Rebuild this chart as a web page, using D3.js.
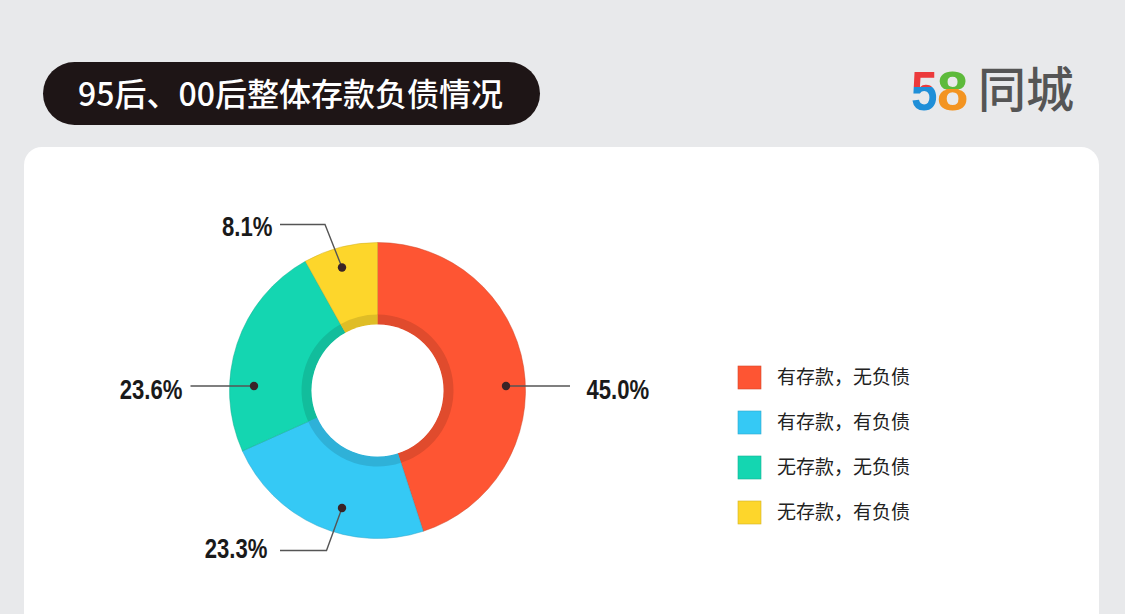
<!DOCTYPE html>
<html><head><meta charset="utf-8">
<script src="https://cdn.jsdelivr.net/npm/d3@7"></script>
<style>
html,body{margin:0;padding:0;background:#e8e9eb;}
svg{display:block;}
</style></head>
<body>
<svg id="chart" width="1125" height="614"></svg>
<script>
// ---- data ----
const categories = ["有存款，无负债", "有存款，有负债", "无存款，无负债", "无存款，有负债"];
const values = [45.0, 23.3, 23.6, 8.1];
const valueLabels = ["45.0%", "23.3%", "23.6%", "8.1%"];
const colors = ["#fe5533", "#35c9f5", "#14d6b1", "#fdd62b"];
const title = "95后、00后整体存款负债情况";

const svg = d3.select("#chart");
const W = 1125, H = 614;

// background + card
svg.append("rect").attr("width", W).attr("height", H).attr("fill", "#e8e9eb");
svg.append("rect").attr("x", 24).attr("y", 147).attr("width", 1075).attr("height", 520)
  .attr("rx", 18).attr("fill", "#ffffff");

// title pill
svg.append("rect").attr("x", 43).attr("y", 62).attr("width", 497).attr("height", 63)
  .attr("rx", 31.5).attr("fill", "#1e1516");
svg.append("text").attr("x", 78).attr("y", 94).attr("dy", "0.36em")
  .attr("fill", "#fff").attr("font-size", 32).attr("font-weight", 500)
  .attr("font-family", "'Noto Sans CJK SC','Liberation Sans',sans-serif")
  .text(title);

// logo 58同城
const defs = svg.append("defs");
const g5 = defs.append("linearGradient").attr("id", "g5").attr("x1", 0).attr("y1", 0).attr("x2", 0).attr("y2", 1);
g5.append("stop").attr("offset", "0.45").attr("stop-color", "#ec3a3c");
g5.append("stop").attr("offset", "0.45").attr("stop-color", "#1f8fd8");
const g8 = defs.append("linearGradient").attr("id", "g8").attr("x1", 0).attr("y1", 0).attr("x2", 0).attr("y2", 1);
g8.append("stop").attr("offset", "0.47").attr("stop-color", "#5dba3b");
g8.append("stop").attr("offset", "0.47").attr("stop-color", "#f39421");
const logo = svg.append("g").attr("font-family", "'Liberation Sans',Arial,sans-serif").attr("font-weight", "bold");
logo.append("text").attr("x", 911).attr("y", 110).attr("font-size", 56).attr("fill", "url(#g5)")
  .attr("transform", "translate(911,0) scale(0.85,1) translate(-911,0)").text("5");
logo.append("text").attr("x", 937).attr("y", 110).attr("font-size", 56).attr("fill", "url(#g8)").text("8");
svg.append("text").attr("x", 978).attr("y", 107).attr("font-size", 48).attr("fill", "#555")
  .attr("font-family", "'Noto Sans CJK SC',sans-serif").attr("font-weight", 500).text("同城");

// donut
const cx = 377.5, cy = 390.5;
const outerR = 148, innerR = 66, shadeR = 76;
const pie = d3.pie().sort(null).value(d => d)(values);
const g = svg.append("g").attr("transform", `translate(${cx},${cy})`);
const arcMain = d3.arc().innerRadius(innerR).outerRadius(outerR);
const arcShade = d3.arc().innerRadius(innerR).outerRadius(shadeR);

g.selectAll("path.slice").data(pie).join("path").attr("class", "slice")
  .attr("d", arcMain).attr("fill", (d, i) => colors[i])
  .attr("stroke", (d, i) => d3.color(colors[i]).darker(0.6)).attr("stroke-width", 0.8).attr("stroke-opacity", 0.6);
g.selectAll("path.shade").data(pie).join("path").attr("class", "shade")
  .attr("d", arcShade).attr("fill", (d, i) => d3.color(colors[i]).darker(0.35));
g.append("circle").attr("r", innerR).attr("fill", "#fff");

// callouts (layout geometry, relative to donut centre)
const callouts = [
  { dot: [128.5, -4.5], pts: [[192.5, -4.5]], label: [209, -1.5], anchor: "start" },
  { dot: [-35.5, 117.5], pts: [[-51, 160], [-97.5, 160]], label: [-110, 158], anchor: "end" },
  { dot: [-123.5, -4.5], pts: [[-187, -4.5]], label: [-195, -1.5], anchor: "end" },
  { dot: [-35.5, -123], pts: [[-52.5, -166], [-97.5, -166]], label: [-105, -164], anchor: "end" }
];
const cg = g.selectAll("g.callout").data(pie).join("g").attr("class", "callout");
cg.append("path")
  .attr("d", (d, i) => d3.line()([callouts[i].dot, ...callouts[i].pts]))
  .attr("fill", "none").attr("stroke", "#555").attr("stroke-width", 1.4);
cg.append("circle").attr("cx", (d, i) => callouts[i].dot[0]).attr("cy", (d, i) => callouts[i].dot[1])
  .attr("r", 4.2).attr("fill", "#3a2326");
cg.append("text")
  .attr("transform", (d, i) => `translate(${callouts[i].label[0]},${callouts[i].label[1]}) scale(0.82,1)`)
  .attr("dy", "0.36em").attr("text-anchor", (d, i) => callouts[i].anchor)
  .attr("font-family", "'Liberation Sans',Arial,sans-serif")
  .attr("font-weight", "bold").attr("font-size", 27).attr("fill", "#1a1a1a")
  .text((d, i) => valueLabels[i]);

// legend
const leg = svg.append("g").attr("transform", "translate(738,366)");
const rows = leg.selectAll("g").data(categories).join("g")
  .attr("transform", (d, i) => `translate(0,${i * 45})`);
rows.append("rect").attr("width", 23).attr("height", 23).attr("fill", (d, i) => colors[i])
  .attr("stroke", (d, i) => d3.color(colors[i]).darker(0.5)).attr("stroke-width", 0.6);
rows.append("text").attr("x", 39).attr("y", 11.5).attr("dy", "0.36em")
  .attr("font-size", 19).attr("fill", "#222")
  .attr("font-family", "'Noto Sans CJK SC',sans-serif")
  .text(d => d);
</script>
</body></html>
